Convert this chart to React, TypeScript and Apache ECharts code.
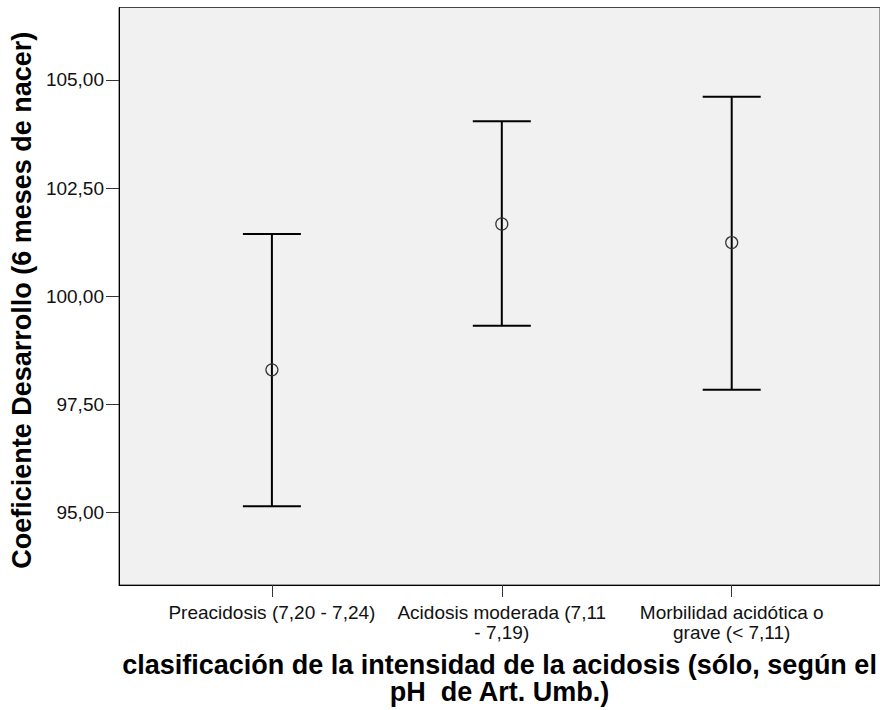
import React, { useEffect, useRef } from "react";
import * as echarts from "echarts";

const categories = [
  "Preacidosis (7,20 - 7,24)",
  "Acidosis moderada (7,11\n- 7,19)",
  "Morbilidad acidótica o\ngrave (< 7,11)",
];
const categoryPositions = [1, 2, 3];
const means = [98.3, 101.67, 101.24];
const lower = [95.15, 99.32, 97.84];
const upper = [101.44, 104.04, 104.61];
const yTicks = [95, 97.5, 100, 102.5, 105];

const yTitle = "Coeficiente Desarrollo (6 meses de nacer)";
const xTitle = "clasificación de la intensidad de la acidosis (sólo, según el\npH  de Art. Umb.)";

const FONT = "'Liberation Sans', Arial, Helvetica, sans-serif";

export default function App() {
  const ref = useRef<HTMLDivElement>(null);
  useEffect(() => {
    if (!ref.current) return;
    const chart = echarts.init(ref.current, null, { renderer: "svg" });
    const data = categoryPositions.map((x, i) => [x, lower[i], upper[i], means[i]]);
    chart.setOption({
      animation: false,
      backgroundColor: "#ffffff",
      textStyle: { fontFamily: FONT },
      grid: {
        left: 114,
        top: 7.5,
        right: -2,
        bottom: 121,
        show: true,
        backgroundColor: "#F0F1F0",
        borderColor: "#444444",
        borderWidth: 1,
      },
      xAxis: {
        type: "value",
        min: 0.335,
        max: 3.645,
        splitLine: { show: false },
        axisLine: { show: true, onZero: false, lineStyle: { color: "#000", width: 1 } },
        axisTick: {
          show: true,
          length: 12,
          customValues: categoryPositions,
          lineStyle: { color: "#333", width: 1 },
        },
        axisLabel: {
          customValues: categoryPositions,
          formatter: (v: number) => categories[Math.round(v) - 1] ?? "",
          margin: 17,
          fontSize: 19,
          lineHeight: 20,
          color: "#111",
          fontFamily: FONT,
          align: "center",
        },
        name: xTitle,
        nameLocation: "middle",
        nameGap: 66,
        nameTextStyle: {
          fontSize: 27,
          fontWeight: "bold",
          lineHeight: 27,
          color: "#000",
          fontFamily: FONT,
          align: "center",
        },
      },
      yAxis: {
        type: "value",
        min: 93.33,
        max: 106.67,
        splitLine: { show: false },
        axisLine: { show: true, onZero: false, lineStyle: { color: "#000", width: 1 } },
        axisTick: {
          show: true,
          length: 13,
          customValues: yTicks,
          lineStyle: { color: "#333", width: 1 },
        },
        axisLabel: {
          customValues: yTicks,
          formatter: (v: number) => v.toFixed(2).replace(".", ","),
          margin: 15,
          fontSize: 19,
          color: "#111",
          fontFamily: FONT,
        },
        name: yTitle,
        nameLocation: "middle",
        nameGap: 78,
        nameRotate: 90,
        nameTextStyle: {
          fontSize: 27,
          fontWeight: "bold",
          color: "#000",
          fontFamily: FONT,
          padding: [0, 8, 0, 0],
        },
      },
      series: [
        {
          type: "custom",
          data,
          encode: { x: 0, y: [1, 2, 3] },
          renderItem: (params: any, api: any) => {
            const x = api.value(0);
            const lo = api.coord([x, api.value(1)]);
            const hi = api.coord([x, api.value(2)]);
            const mid = api.coord([x, api.value(3)]);
            const half = 29;
            const lineStyle = { stroke: "#000", lineWidth: 2 };
            return {
              type: "group",
              children: [
                { type: "line", shape: { x1: lo[0], y1: lo[1], x2: hi[0], y2: hi[1] }, style: lineStyle },
                { type: "line", shape: { x1: hi[0] - half, y1: hi[1], x2: hi[0] + half, y2: hi[1] }, style: lineStyle },
                { type: "line", shape: { x1: lo[0] - half, y1: lo[1], x2: lo[0] + half, y2: lo[1] }, style: lineStyle },
                {
                  type: "circle",
                  shape: { cx: mid[0], cy: mid[1], r: 6 },
                  style: { fill: "none", stroke: "#333", lineWidth: 1.2 },
                },
              ],
            };
          },
        },
      ],
    });
    return () => chart.dispose();
  }, []);
  return (
    <div
      ref={ref}
      style={{ position: "absolute", left: 0, top: 0, width: 880, height: 710 }}
    />
  );
}
